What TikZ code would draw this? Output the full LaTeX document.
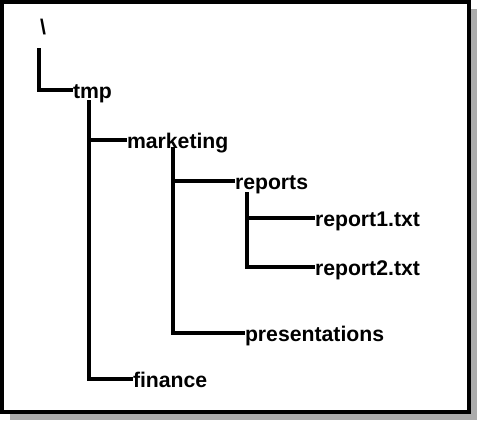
\documentclass[tikz,border=0pt]{standalone}
\usepackage{fontspec}
\setmainfont{Liberation Sans}
\begin{document}
\begin{tikzpicture}[x=1bp,y=-1bp,
  item/.style={font=\fontsize{21.3}{25}\selectfont\bfseries, anchor=west, inner sep=0pt, outer sep=0pt, text height=17.5bp, text depth=0pt},
  link/.style={line width=3.2bp, line cap=butt, line join=miter},
  frame/.style={line width=4bp, draw=black, fill=white},
  shadow/.style={fill=black!33, draw=none}]
\useasboundingbox (0,0) rectangle (477,420);
\fill[shadow] (10,9) rectangle (477,420);
\draw[frame] (2,2) rectangle (468.5,411.5);
% nodes
\node[item] (root) at (40,26) {\textbackslash};
\node[item] (tmp) at (73,90) {tmp};
\node[item] (marketing) at (127,140) {marketing};
\node[item] (reports) at (235,181) {reports};
\node[item] (r1) at (315,218) {report1.txt};
\node[item] (r2) at (315,267) {report2.txt};
\node[item] (pres) at (245,333) {presentations};
\node[item] (fin) at (133,379) {finance};
% vertical starts
\coordinate (v0) at (39,48);
\coordinate (v1) at (89,100);
\coordinate (v2) at (173,147);
\coordinate (v3) at (247,192);
% connectors
\draw[link] (v0) |- (tmp.west);
\draw[link] (v1) |- (marketing.west);
\draw[link] (v1) |- (fin.west);
\draw[link] (v2) |- (reports.west);
\draw[link] (v2) |- (pres.west);
\draw[link] (v3) |- (r1.west);
\draw[link] (v3) |- (r2.west);
\end{tikzpicture}
\end{document}
